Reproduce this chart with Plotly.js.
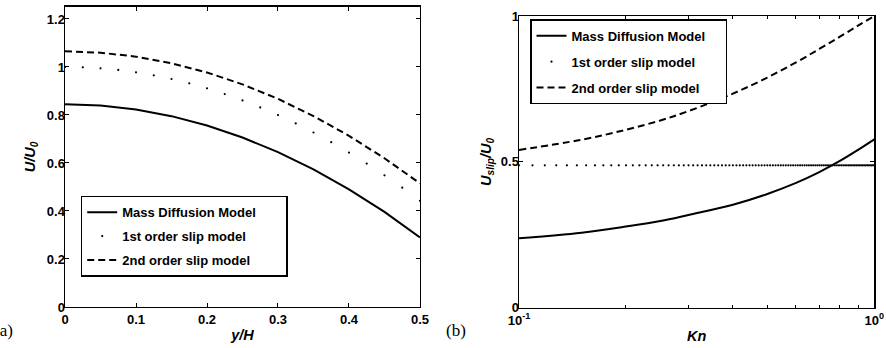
<!DOCTYPE html>
<html><head><meta charset="utf-8">
<script src="https://cdn.plot.ly/plotly-3.0.1.min.js"></script>
<style>html,body{margin:0;padding:0;background:#fff}</style>
</head><body><div id="chart" style="width:886px;height:348px"></div>
<script>
// ----- Panel (a): velocity profile vs y/H -----
const yH = [0, 0.05, 0.1, 0.15, 0.2, 0.25, 0.3, 0.35, 0.4, 0.45, 0.5];
const massA = [0.845, 0.839, 0.823, 0.795, 0.756, 0.706, 0.645, 0.573, 0.490, 0.396, 0.29];
const secondA = [1.065, 1.0595, 1.043, 1.0155, 0.977, 0.9275, 0.867, 0.7955, 0.713, 0.6195, 0.515];
const yHdots = [0, 0.025, 0.05, 0.075, 0.1, 0.125, 0.15, 0.175, 0.2, 0.225, 0.25, 0.275, 0.3, 0.325, 0.35, 0.375, 0.4, 0.425, 0.45, 0.475, 0.5];
const firstA = [1.0, 0.9986, 0.9944, 0.9875, 0.9777, 0.9652, 0.9498, 0.9317, 0.9108, 0.8871, 0.8606, 0.8314, 0.7993, 0.7645, 0.7268, 0.6864, 0.6432, 0.5972, 0.5484, 0.4968, 0.4425];

// ----- Panel (b): slip velocity vs Kn -----
const kn = [0.1, 0.15, 0.2, 0.25, 0.3, 0.4, 0.5, 0.6, 0.7, 0.8, 0.9, 1.0];
const massB = [0.238, 0.257, 0.278, 0.297, 0.318, 0.353, 0.390, 0.427, 0.465, 0.503, 0.541, 0.577];
const secondB = [0.541, 0.576, 0.610, 0.642, 0.674, 0.734, 0.789, 0.840, 0.887, 0.929, 0.967, 1.0];
const knDots = [
 0.1000,0.1091,0.1182,0.1273,0.1364,0.1455,0.1545,0.1636,0.1727,0.1818,0.1909,
 0.2000,0.2091,0.2182,0.2273,0.2364,0.2455,0.2545,0.2636,0.2727,0.2818,0.2909,
 0.3000,0.3091,0.3182,0.3273,0.3364,0.3455,0.3545,0.3636,0.3727,0.3818,0.3909,
 0.4000,0.4091,0.4182,0.4273,0.4364,0.4455,0.4545,0.4636,0.4727,0.4818,0.4909,
 0.5000,0.5091,0.5182,0.5273,0.5364,0.5455,0.5545,0.5636,0.5727,0.5818,0.5909,
 0.6000,0.6091,0.6182,0.6273,0.6364,0.6455,0.6545,0.6636,0.6727,0.6818,0.6909,
 0.7000,0.7091,0.7182,0.7273,0.7364,0.7455,0.7545,0.7636,0.7727,0.7818,0.7909,
 0.8000,0.8091,0.8182,0.8273,0.8364,0.8455,0.8545,0.8636,0.8727,0.8818,0.8909,
 0.9000,0.9091,0.9182,0.9273,0.9364,0.9455,0.9545,0.9636,0.9727,0.9818,0.9909,
 1.0000];
const firstBValue = 0.488;
const firstB = knDots.map(() => firstBValue);

const names = ['Mass Diffusion Model', '1st order slip model', '2nd order slip model'];
const xTickVals = [0, 0.1, 0.2, 0.3, 0.4, 0.5];
const knTickVals = [0.1, 1];
const knTickText = ['10<sup>-1</sup>', '10<sup>0</sup>'];
const knMinor = [0.2, 0.3, 0.4, 0.5, 0.6, 0.7, 0.8, 0.9];

const FONT = 'Liberation Sans, Arial, Helvetica, sans-serif';
const tickFont = {family: FONT, size: 13, color: '#000', weight: 'bold'};
const titleFont = {family: FONT, size: 14.5, color: '#000', weight: 'bold', style: 'italic'};
const legFont = {family: FONT, size: 13, color: '#000', weight: 'bold'};
const pad = (n) => '&nbsp;'.repeat(n);

const traces = [
  {x: yH, y: massA, mode: 'lines', name: names[0] + pad(7), line: {color: '#000', width: 2}, xaxis: 'x', yaxis: 'y', legend: 'legend', legendgroup: 'a1'},
  {x: yHdots, y: firstA, mode: 'markers', name: names[1], marker: {color: '#000', size: 2.2}, xaxis: 'x', yaxis: 'y', legend: 'legend', legendgroup: 'a2'},
  {x: yH, y: secondA, mode: 'lines', name: names[2], line: {color: '#000', width: 2, dash: '7px,4px'}, xaxis: 'x', yaxis: 'y', legend: 'legend', legendgroup: 'a3'},
  {x: kn, y: massB, mode: 'lines', name: names[0] + pad(4), line: {color: '#000', width: 2, shape: 'spline'}, xaxis: 'x2', yaxis: 'y2', legend: 'legend2', legendgroup: 'b1'},
  {x: knDots, y: firstB, mode: 'markers', name: names[1], marker: {color: '#000', size: 2.2}, xaxis: 'x2', yaxis: 'y2', legend: 'legend2', legendgroup: 'b2'},
  {x: kn, y: secondB, mode: 'lines', name: names[2], line: {color: '#000', width: 2, dash: '7px,4px', shape: 'spline'}, xaxis: 'x2', yaxis: 'y2', legend: 'legend2', legendgroup: 'b3'}
];

const axBase = {
  showline: true, linecolor: '#000', linewidth: 1.5, mirror: 'ticks',
  ticks: 'inside', ticklen: 4, tickwidth: 1, tickcolor: '#000',
  showgrid: false, zeroline: false, tickfont: tickFont
};

const layout = {
  width: 886, height: 348,
  margin: {l: 0, r: 0, t: 0, b: 0},
  paper_bgcolor: '#fff', plot_bgcolor: '#fff',
  xaxis: Object.assign({}, axBase, {
    domain: [0.0734, 0.4740], range: [0, 0.5], tickmode: 'array', tickvals: xTickVals,
    anchor: 'y', title: {text: '<b><i>y/H</i></b>', font: titleFont, standoff: 4}
  }),
  yaxis: Object.assign({}, axBase, {
    domain: [0.118, 0.980], range: [0, 1.25], tick0: 0, dtick: 0.2,
    ticklabelstandoff: -4,
    anchor: 'x', title: {text: '<b><i>U/U<sub>0</sub></i></b>', font: titleFont, standoff: 8}
  }),
  xaxis2: Object.assign({}, axBase, {
    domain: [0.5858, 0.9868], type: 'log', range: [-1, 0], tickmode: 'array',
    tickvals: knTickVals, ticktext: knTickText, anchor: 'y2',
    minor: {ticks: 'inside', ticklen: 2.5, tickcolor: '#000', tickmode: 'array', tickvals: knMinor},
    title: {text: '<b><i>Kn</i></b>', font: titleFont, standoff: 4}
  }),
  yaxis2: Object.assign({}, axBase, {
    domain: [0.1158, 0.954], range: [0, 1], tickmode: 'array', tickvals: [0, 0.5, 1],
    ticklabelstandoff: -4,
    anchor: 'x2', title: {text: '<b><i>U<sub>slip</sub>/U<sub>0</sub></i></b>', font: titleFont, standoff: 6}
  }),
  legend: {
    x: 0.0911, y: 0.4376, xanchor: 'left', yanchor: 'top',
    bgcolor: '#fff', bordercolor: '#000', borderwidth: 1.5, font: legFont,
    traceorder: 'grouped', tracegroupgap: 4
  },
  legend2: {
    x: 0.5982, y: 0.9445, xanchor: 'left', yanchor: 'top',
    bgcolor: '#fff', bordercolor: '#000', borderwidth: 1.5, font: legFont,
    traceorder: 'grouped', tracegroupgap: 6
  },
  annotations: [
    {text: '(a)', xref: 'paper', yref: 'paper', x: -0.009, y: 0.049, xanchor: 'left', yanchor: 'middle', showarrow: false, font: {family: 'Liberation Serif, Times New Roman, serif', size: 17, color: '#000'}},
    {text: '(b)', xref: 'paper', yref: 'paper', x: 0.5011, y: 0.049, xanchor: 'left', yanchor: 'middle', showarrow: false, font: {family: 'Liberation Serif, Times New Roman, serif', size: 17, color: '#000'}}
  ],
  showlegend: true
};

Plotly.newPlot('chart', traces, layout, {displayModeBar: false, staticPlot: true});
</script></body></html>
